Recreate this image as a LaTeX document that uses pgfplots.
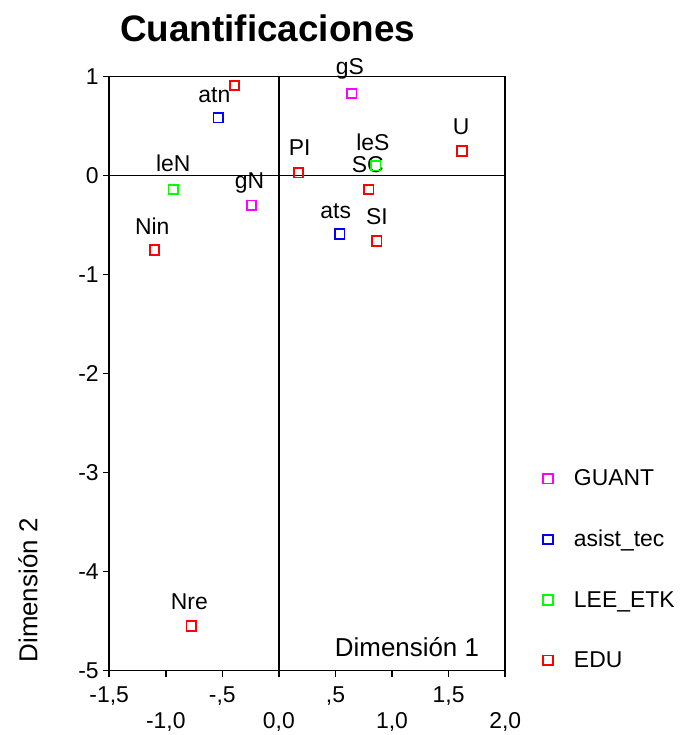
\documentclass[border=0pt]{standalone}
\usepackage{fontspec}
\setmainfont{Liberation Sans}
\usepackage{pgfplots}
\pgfplotsset{compat=1.18}
\definecolor{cGuant}{RGB}{255,0,255}
\definecolor{cAsist}{RGB}{0,0,255}
\definecolor{cLee}{RGB}{0,255,0}
\definecolor{cEdu}{RGB}{255,0,0}
\newcommand{\lbl}{\fontsize{23}{26}\selectfont}
\begin{document}
\noindent\begin{tikzpicture}[x=1bp,y=1bp]
\useasboundingbox (0,0) rectangle (684,735);
\begin{axis}[
    at={(96.5,65)}, anchor=south west,
    scale only axis, width=396bp, height=594bp,
    xmin=-1.5, xmax=2, ymin=-5, ymax=1,
    clip=false,
    axis line style={line width=1.6bp},
    tick align=outside, tick pos=left, major tick length=6bp,
    every tick/.style={black, line width=1.6bp},
    xtick={-1.5,-0.5,0.5,1.5},
    xticklabels={{-1,5},{-,5},{,5},{1,5}},
    extra x ticks={-1,0,1,2},
    extra x tick labels={{-1,0},{0,0},{1,0},{2,0}},
    extra x tick style={xticklabel style={yshift=-25bp}},
    ytick={-5,-4,-3,-2,-1,0,1},
    yticklabels={-5,-4,-3,-2,-1,0,1},
    ticklabel style={font=\lbl},
    xticklabel style={yshift=-7bp},
    yticklabel style={xshift=-1bp},
    title={\bfseries Cuantificaciones},
    title style={font=\fontsize{37}{40}\selectfont, at={(axis description cs:0.40,1.071)}, anchor=center},
    xlabel={Dimensión 1},
    xlabel style={font=\fontsize{26}{28}\selectfont, at={(axis description cs:0.752,0.039)}, anchor=center},
    ylabel={Dimensión 2},
    ylabel style={font=\fontsize{26}{28}\selectfont, at={(axis description cs:-0.205,0.135)}, anchor=center},
    legend style={draw=none, fill=none, at={(axis description cs:1,0.345)}, anchor=north west,
        xshift=35bp, row sep=39bp, font=\lbl, nodes={inner xsep=21bp}},
    legend cell align=left,
    every axis plot/.append style={only marks, mark=square, mark size=4.8bp, line width=1.8bp},
]
\draw[line width=1.6bp] (axis cs:0,-5) -- (axis cs:0,1);
\draw[line width=1.6bp] (axis cs:-1.5,0) -- (axis cs:2,0);

\addplot[cGuant] coordinates {(0.643,0.83) (-0.242,-0.30)};
\addlegendentry{GUANT}
\addplot[cAsist] coordinates {(-0.535,0.586) (0.537,-0.59)};
\addlegendentry{asist\_tec}
\addplot[cLee] coordinates {(0.856,0.10) (-0.933,-0.14)};
\addlegendentry{LEE\_ETK}
\addplot[cEdu] coordinates {(-0.393,0.91) (1.618,0.25) (0.174,0.03) (0.794,-0.14) (0.865,-0.66) (-1.10,-0.75) (-0.774,-4.55)};
\addlegendentry{EDU}

\node[font=\lbl] at (axis cs:-0.570,0.81) {atn};
\node[font=\lbl] at (axis cs:0.627,1.08) {gS};
\node[font=\lbl] at (axis cs:1.610,0.495) {U};
\node[font=\lbl] at (axis cs:0.183,0.283) {PI};
\node[font=\lbl] at (axis cs:0.830,0.333) {leS};
\node[font=\lbl] at (axis cs:0.786,0.111) {SC};
\node[font=\lbl] at (axis cs:-0.933,0.121) {leN};
\node[font=\lbl] at (axis cs:-0.260,-0.071) {gN};
\node[font=\lbl] at (axis cs:-1.119,-0.515) {Nin};
\node[font=\lbl] at (axis cs:0.502,-0.364) {ats};
\node[font=\lbl] at (axis cs:0.866,-0.414) {SI};
\node[font=\lbl] at (axis cs:-0.791,-4.303) {Nre};
\end{axis}
\end{tikzpicture}
\end{document}
